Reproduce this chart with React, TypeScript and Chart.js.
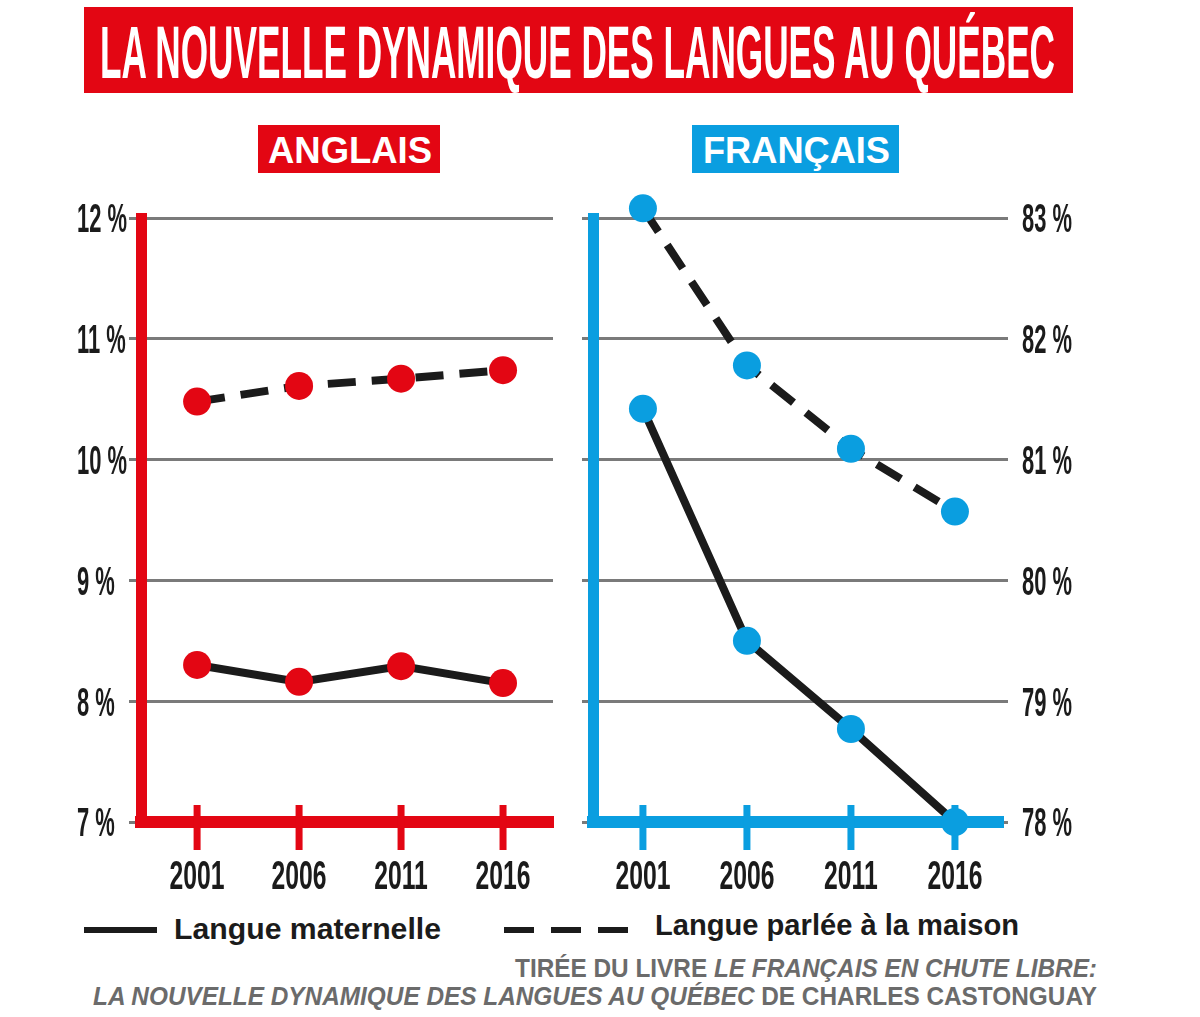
import React, { useEffect, useRef } from "react";
import { Chart, registerables } from "chart.js";

Chart.register(...registerables);

// ---- Data ----
const years = [2001, 2006, 2011, 2016];
const anglaisMaternelle = [8.3, 8.16, 8.29, 8.15];
const anglaisMaison = [10.48, 10.61, 10.67, 10.74];
const francaisMaternelle = [81.42, 79.5, 78.77, 78.0];
const francaisMaison = [83.08, 81.78, 81.09, 80.57];
const anglaisTicks = [7, 8, 9, 10, 11, 12];
const francaisTicks = [78, 79, 80, 81, 82, 83];
const seriesLabels = ["Langue maternelle", "Langue parlée à la maison"];
const titleText = "LA NOUVELLE DYNAMIQUE DES LANGUES AU QUÉBEC";
const panelTitles = ["ANGLAIS", "FRANÇAIS"];
const tickLabel = (v: number) => `${v} %`;

// ---- Styles ----
const RED = "#e30613";
const BLUE = "#0a9ee0";
const INK = "#1b1b1b";
const GRID = "#7a7a7a";
const SOURCE = "#6b6b6b";
const NARROW = '"Liberation Sans Narrow", "Liberation Sans", Arial, sans-serif';

function decorPlugin(color: string, labelX: number) {
  return {
    id: "panelDecor",
    beforeDatasetsDraw(chart: any) {
      const xs = chart.scales.x;
      const ctx = chart.ctx;
      const b = chart.chartArea.bottom;
      ctx.save();
      ctx.strokeStyle = color;
      ctx.lineWidth = 7;
      xs.ticks.forEach((t: any) => {
        const px = xs.getPixelForValue(t.value);
        ctx.beginPath();
        ctx.moveTo(px, b - 17);
        ctx.lineTo(px, b + 28);
        ctx.stroke();
      });
      ctx.restore();
    },
    afterDraw(chart: any) {
      const ctx = chart.ctx;
      const xs = chart.scales.x;
      const ys = chart.scales.y;
      const b = chart.chartArea.bottom;
      ctx.save();
      ctx.fillStyle = INK;
      ctx.font = `bold 40px ${NARROW}`;
      ctx.textBaseline = "alphabetic";
      const cap = 28.6;
      const ky = 50 / ctx.measureText("00 %").width;
      ys.ticks.forEach((t: any) => {
        const py = ys.getPixelForValue(t.value);
        ctx.save();
        ctx.translate(labelX, py + cap / 2);
        ctx.scale(ky, 1);
        ctx.textAlign = "left";
        ctx.fillText(tickLabel(t.value), 0, 0);
        ctx.restore();
      });
      const kx = 55 / ctx.measureText("2006").width;
      xs.ticks.forEach((t: any) => {
        const px = xs.getPixelForValue(t.value);
        ctx.save();
        ctx.translate(px, b + 67);
        ctx.scale(kx, 1);
        ctx.textAlign = "center";
        ctx.fillText(String(t.value), 0, 0);
        ctx.restore();
      });
      ctx.restore();
    },
  };
}

function makeDatasets(mat: number[], mai: number[], pointColor: string) {
  return [
    {
      label: seriesLabels[0],
      data: years.map((y, i) => ({ x: y, y: mat[i] })),
      borderColor: INK,
      borderWidth: 8,
      pointRadius: 14,
      pointBackgroundColor: pointColor,
      pointBorderColor: pointColor,
      pointBorderWidth: 0,
      clip: false as any,
      xAxisID: "x",
      yAxisID: "y",
    },
    {
      label: seriesLabels[1],
      data: years.map((y, i) => ({ x: y, y: mai[i] })),
      borderColor: INK,
      borderWidth: 8,
      borderDash: [28, 16],
      pointRadius: 14,
      pointBackgroundColor: pointColor,
      pointBorderColor: pointColor,
      pointBorderWidth: 0,
      clip: false as any,
      xAxisID: "x",
      yAxisID: "y",
    },
  ];
}

const setYearTicks = (s: any) => {
  s.ticks = years.map((v) => ({ value: v }));
};

export default function App() {
  const leftRef = useRef<HTMLCanvasElement>(null);
  const rightRef = useRef<HTMLCanvasElement>(null);

  useEffect(() => {
    const left = new Chart(leftRef.current as HTMLCanvasElement, {
      type: "line",
      data: { datasets: makeDatasets(anglaisMaternelle, anglaisMaison, RED) as any },
      options: {
        animation: false,
        responsive: false,
        maintainAspectRatio: false,
        layout: { padding: { top: 28, right: 22, bottom: 0, left: 0 } },
        plugins: { legend: { display: false }, tooltip: { enabled: false } },
        scales: {
          x: {
            type: "linear",
            min: 1998.25,
            max: 2018.45,
            afterBuildTicks: setYearTicks,
            afterFit: (s: any) => {
              s.height = 78;
            },
            ticks: { display: false },
            grid: { drawOnChartArea: false, drawTicks: false },
            border: { display: true, color: RED, width: 12 },
          },
          y: {
            type: "linear",
            min: 7,
            max: 12,
            afterBuildTicks: (s: any) => {
              s.ticks = anglaisTicks.map((v) => ({ value: v }));
            },
            afterFit: (s: any) => {
              s.width = 141;
            },
            ticks: { display: false },
            grid: { color: GRID, lineWidth: 3, tickLength: 12 },
            border: { display: true, color: RED, width: 11 },
          },
        },
      } as any,
      plugins: [decorPlugin(RED, 77)],
    });

    const right = new Chart(rightRef.current as HTMLCanvasElement, {
      type: "line",
      data: { datasets: makeDatasets(francaisMaternelle, francaisMaison, BLUE) as any },
      options: {
        animation: false,
        responsive: false,
        maintainAspectRatio: false,
        layout: { padding: { top: 28, right: 0, bottom: 0, left: 0 } },
        plugins: { legend: { display: false }, tooltip: { enabled: false } },
        scales: {
          x: {
            type: "linear",
            min: 1998.6,
            max: 2018.31,
            afterBuildTicks: setYearTicks,
            afterFit: (s: any) => {
              s.height = 78;
            },
            ticks: { display: false },
            grid: { drawOnChartArea: false, drawTicks: false },
            border: { display: true, color: BLUE, width: 12 },
          },
          yLeft: {
            axis: "y",
            type: "linear",
            position: "left",
            min: 78,
            max: 83,
            afterBuildTicks: (s: any) => {
              s.ticks = francaisTicks.map((v) => ({ value: v }));
            },
            afterFit: (s: any) => {
              s.width = 23;
            },
            ticks: { display: false },
            grid: { drawOnChartArea: false, color: GRID, lineWidth: 3, tickLength: 11 },
            border: { display: true, color: BLUE, width: 11 },
          },
          y: {
            type: "linear",
            position: "right",
            min: 78,
            max: 83,
            afterBuildTicks: (s: any) => {
              s.ticks = francaisTicks.map((v) => ({ value: v }));
            },
            afterFit: (s: any) => {
              s.width = 197;
            },
            ticks: { display: false },
            grid: { color: GRID, lineWidth: 3, tickLength: 5 },
            border: { display: false },
          },
        },
      } as any,
      plugins: [decorPlugin(BLUE, 452)],
    });

    return () => {
      left.destroy();
      right.destroy();
    };
  }, []);

  return (
    <div
      style={{
        position: "absolute",
        left: 0,
        top: 0,
        width: 1200,
        height: 1017,
        background: "#ffffff",
        overflow: "hidden",
      }}
    >
      <svg
        width={1200}
        height={1017}
        style={{ position: "absolute", left: 0, top: 0 }}
      >
        <rect x={84} y={7} width={989} height={86} fill={RED} />
        <text
          x={100}
          y={78}
          fill="#ffffff"
          fontFamily={NARROW}
          fontWeight="bold"
          fontSize={74}
          textLength={955}
          lengthAdjust="spacingAndGlyphs"
        >
          {titleText}
        </text>

        <rect x={258} y={125} width={182} height={48} fill={RED} />
        <text
          x={268}
          y={163}
          fill="#ffffff"
          fontFamily='"Liberation Sans", Arial, sans-serif'
          fontWeight="bold"
          fontSize={36}
          textLength={164}
          lengthAdjust="spacingAndGlyphs"
        >
          {panelTitles[0]}
        </text>

        <rect x={692} y={125} width={207} height={48} fill={BLUE} />
        <text
          x={703}
          y={163}
          fill="#ffffff"
          fontFamily='"Liberation Sans", Arial, sans-serif'
          fontWeight="bold"
          fontSize={36}
          textLength={187}
          lengthAdjust="spacingAndGlyphs"
        >
          {panelTitles[1]}
        </text>

        <line x1={84} y1={930} x2={157} y2={930} stroke={INK} strokeWidth={6} />
        <text
          x={174}
          y={939}
          fill={INK}
          fontFamily={NARROW}
          fontWeight="bold"
          fontSize={30}
          textLength={267}
          lengthAdjust="spacingAndGlyphs"
        >
          {seriesLabels[0]}
        </text>

        <line
          x1={504}
          y1={930}
          x2={628}
          y2={930}
          stroke={INK}
          strokeWidth={6}
          strokeDasharray="30 17"
        />
        <text
          x={655}
          y={935}
          fill={INK}
          fontFamily={NARROW}
          fontWeight="bold"
          fontSize={30}
          textLength={364}
          lengthAdjust="spacingAndGlyphs"
        >
          {seriesLabels[1]}
        </text>

        <text
          x={515}
          y={977}
          fill={SOURCE}
          fontFamily={NARROW}
          fontWeight="bold"
          fontSize={25}
          textLength={582}
          lengthAdjust="spacingAndGlyphs"
        >
          <tspan>TIRÉE DU LIVRE </tspan>
          <tspan fontStyle="italic">LE FRANÇAIS EN CHUTE LIBRE:</tspan>
        </text>
        <text
          x={93}
          y={1005}
          fill={SOURCE}
          fontFamily={NARROW}
          fontWeight="bold"
          fontSize={25}
          textLength={1004}
          lengthAdjust="spacingAndGlyphs"
        >
          <tspan fontStyle="italic">LA NOUVELLE DYNAMIQUE DES LANGUES AU QUÉBEC</tspan>
          <tspan> DE CHARLES CASTONGUAY</tspan>
        </text>
      </svg>

      <canvas
        ref={leftRef}
        width={575}
        height={710}
        style={{ position: "absolute", left: 0, top: 190, width: 575, height: 710 }}
      />
      <canvas
        ref={rightRef}
        width={630}
        height={710}
        style={{ position: "absolute", left: 570, top: 190, width: 630, height: 710 }}
      />
    </div>
  );
}
